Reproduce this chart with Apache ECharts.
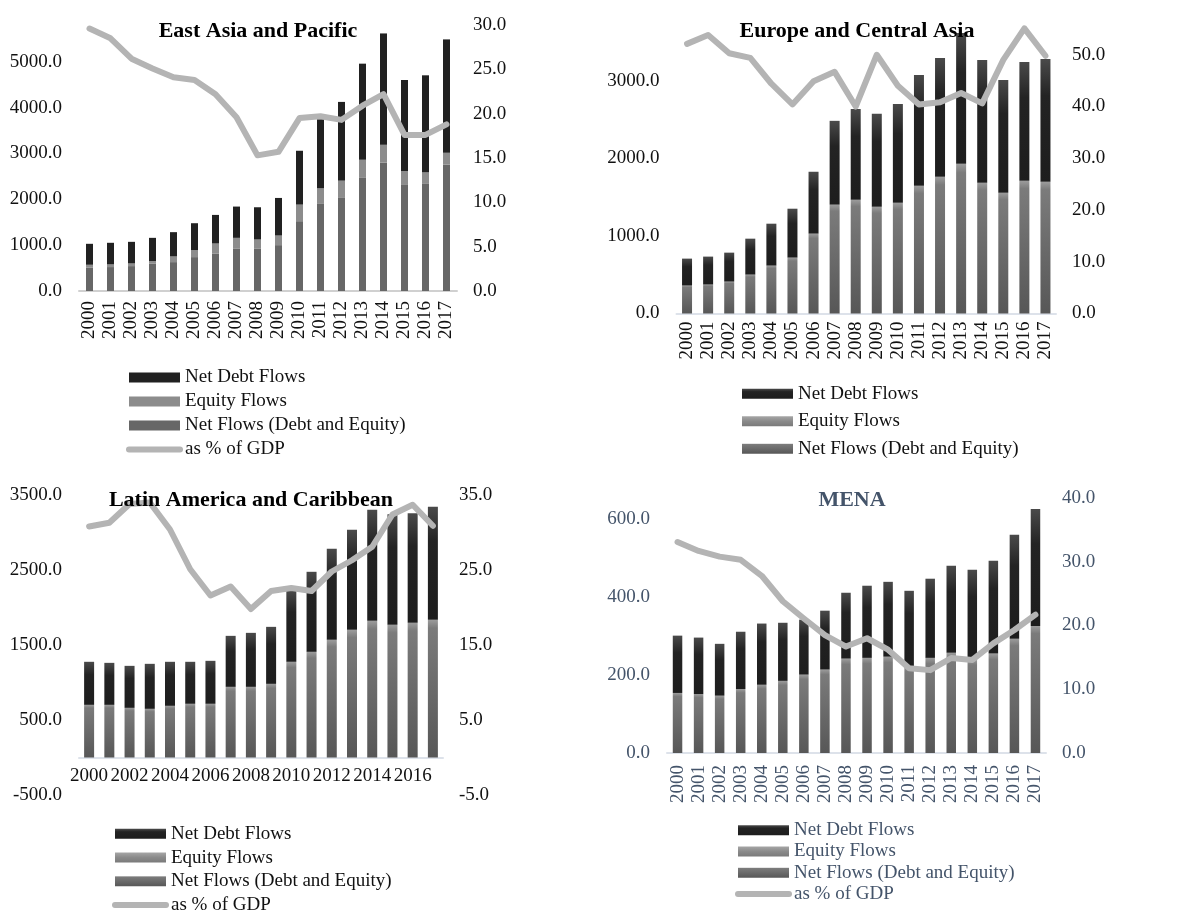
<!DOCTYPE html>
<html>
<head>
<meta charset="utf-8">
<script src="https://cdn.jsdelivr.net/npm/echarts@6/dist/echarts.min.js"></script>
<style>
  html, body { margin: 0; padding: 0; background: #ffffff; overflow: hidden; }
  .panel { position: absolute; left: 0; top: 0; width: 1182px; height: 1000px; }
</style>
</head>
<body>
<div id="eap" class="panel"></div>
<div id="eca" class="panel"></div>
<div id="lac" class="panel"></div>
<div id="mena" class="panel"></div>
<script>
// Years on the category axis
const years = ['2000','2001','2002','2003','2004','2005','2006','2007','2008',
               '2009','2010','2011','2012','2013','2014','2015','2016','2017'];

// East Asia and Pacific
const eapNetFlows = [507,522,543,594,630,739,812,920,920,1000,1522,1899,2043,2478,2804,2312,2348,2754];
const eapEquity   = [65,58,58,58,124,152,224,239,203,210,362,340,363,384,384,304,239,260];
const eapNetDebt  = [457,471,471,507,529,587,623,682,703,819,1174,1507,1717,2095,2428,1985,2116,2472];
const eapGdpPct   = [29.6,28.5,26.2,25.1,24.1,23.8,22.2,19.6,15.3,15.7,19.5,19.7,19.3,20.9,22.2,17.6,17.6,18.8];

// Europe and Central Asia
const ecaNetFlows = [360,373,411,501,617,720,1029,1402,1466,1376,1427,1646,1762,1929,1685,1556,1710,1697];
const ecaEquity   = [];
const ecaNetDebt  = [347,360,373,463,540,630,797,1080,1170,1196,1273,1427,1530,1684,1581,1453,1530,1582];
const ecaGdpPct   = [52.1,53.8,50.3,49.4,44.4,40.4,44.9,46.7,40.0,50.0,44.0,40.4,40.8,42.6,40.6,49.0,55.1,49.8];

// Latin America and Caribbean
const lacNetFlows = [702,702,662,649,689,716,716,942,942,982,1276,1409,1569,1702,1822,1769,1796,1836];
const lacEquity   = [];
const lacNetDebt  = [574,560,560,600,587,560,573,680,720,760,946,1067,1213,1334,1480,1475,1462,1506];
const lacGdpPct   = [30.8,31.3,33.8,34.0,30.4,25.1,21.6,22.8,19.8,22.2,22.6,22.2,24.8,26.3,28.1,32.4,33.7,30.9];

// Middle East and North Africa
const menaNetFlows = [154,151,147,164,175,185,201,214,242,244,247,222,244,257,240,255,293,326];
const menaEquity   = [];
const menaNetDebt  = [147,145,133,147,157,149,141,151,169,185,192,194,203,223,230,238,267,300];
const menaGdpPct   = [33.1,31.7,30.8,30.3,27.8,23.8,21.1,18.5,16.7,18.0,16.2,13.3,13.0,14.9,14.6,17.2,19.3,21.7];

const SERIES_DEBT = 'Net Debt Flows';
const SERIES_EQUITY = 'Equity Flows';
const SERIES_NET = 'Net Flows (Debt and Equity)';
const SERIES_GDP = 'as % of GDP';

const FONT = "'Liberation Serif', 'Times New Roman', serif";
const LINE_GREY = '#b4b4b4';

const grad = (stops) => new echarts.graphic.LinearGradient(0, 0, 0, 1,
  stops.map(([offset, color]) => ({ offset, color })));

const flatColours = { debt: '#212121', equity: '#8c8c8c', net: '#676767' };
const gradColours = {
  debt: grad([[0, '#4a4a4a'], [0.3, '#232323'], [1, '#1d1d1d']]),
  equity: grad([[0, '#a6a6a6'], [0.5, '#8a8a8a'], [1, '#7a7a7a']]),
  net: grad([[0, '#9c9c9c'], [0.06, '#7b7b7b'], [1, '#575757']])
};

const fmt1 = v => v.toFixed(1);

function buildPanel(el, cfg) {
  const chart = echarts.init(document.getElementById(el));
  const col = cfg.colours;
  const txt = cfg.textColour;
  // the GDP share keeps a plain rounded line as its key, without the marker dot
  const legendItems = cfg.legendNames.map(n => n === SERIES_GDP
    ? { name: n, itemStyle: { opacity: 0 },
        lineStyle: { width: 6, cap: 'round', color: LINE_GREY } }
    : { name: n, icon: 'rect' });
  const option = {
    animation: false,
    textStyle: { fontFamily: FONT },
    graphic: [{
      type: 'text', z: 100,
      x: cfg.title.x, y: cfg.title.y,
      style: {
        text: cfg.title.text, x: 0, y: 0,
        font: 'bold 22px ' + FONT, fill: cfg.titleColour,
        textAlign: 'center', textVerticalAlign: 'middle'
      }
    }],
    legend: {
      orient: 'vertical', left: cfg.legend.left, top: cfg.legend.top,
      padding: 0, itemWidth: 51, itemHeight: 10, itemGap: 0,
      textStyle: { fontFamily: FONT, fontSize: 19, color: txt, lineHeight: cfg.legend.pitch },
      data: legendItems
    },
    grid: Object.assign({ containLabel: false }, cfg.grid),
    xAxis: {
      type: 'category', data: years,
      offset: cfg.xOffset || 0,
      axisLine: { onZero: false, lineStyle: { color: cfg.axisColour, width: 2 } },
      axisTick: { show: false },
      axisLabel: Object.assign({
        fontFamily: FONT, fontSize: 19, color: txt, margin: cfg.xMargin
      }, cfg.xLabel)
    },
    yAxis: [
      Object.assign({
        type: 'value', position: 'left',
        splitLine: { show: false }, axisLine: { show: false }, axisTick: { show: false },
        axisLabel: { fontFamily: FONT, fontSize: 19, color: txt, margin: 17,
                     formatter: cfg.leftFormatter || fmt1,
                     showMaxLabel: cfg.leftShowMax }
      }, cfg.leftAxis),
      Object.assign({
        type: 'value', position: 'right',
        splitLine: { show: false }, axisLine: { show: false }, axisTick: { show: false },
        axisLabel: { fontFamily: FONT, fontSize: 19, color: txt, margin: 16,
                     formatter: cfg.rightFormatter || fmt1,
                     showMaxLabel: cfg.rightShowMax }
      }, cfg.rightAxis)
    ],
    series: [
      { name: SERIES_NET, type: 'bar', stack: 'flows', barWidth: cfg.barWidth,
        itemStyle: { color: col.net }, data: cfg.net },
      { name: SERIES_EQUITY, type: 'bar', stack: 'flows', barWidth: cfg.barWidth,
        itemStyle: { color: col.equity }, data: cfg.equity },
      { name: SERIES_DEBT, type: 'bar', stack: 'flows', barWidth: cfg.barWidth,
        itemStyle: { color: col.debt }, data: cfg.debt },
      { name: SERIES_GDP, type: 'line', yAxisIndex: 1, symbol: 'none', z: 5,
        lineStyle: { color: LINE_GREY, width: 6, cap: 'round', join: 'round' },
        itemStyle: { color: LINE_GREY },
        data: cfg.gdp }
    ]
  };
  chart.setOption(option);
}

const allNames = [SERIES_DEBT, SERIES_EQUITY, SERIES_NET, SERIES_GDP];

buildPanel('eap', {
  title: { text: 'East Asia and Pacific', x: 258, y: 31 },
  titleColour: '#000000', textColour: '#111111', axisColour: '#d0d0d0',
  colours: flatColours,
  grid: { left: 79, top: 25, width: 378, height: 266 },
  leftAxis: { min: 0, max: 5800, interval: 1000 }, leftShowMax: false,
  rightAxis: { min: 0, max: 30, interval: 5 }, rightShowMax: true,
  xLabel: { rotate: 90, interval: 0 }, xMargin: 10,
  barWidth: 7,
  legend: { left: 126, top: 365.5, pitch: 24 }, legendNames: allNames,
  net: eapNetFlows, equity: eapEquity, debt: eapNetDebt, gdp: eapGdpPct
});

buildPanel('eca', {
  title: { text: 'Europe and Central Asia', x: 857, y: 31 },
  titleColour: '#000000', textColour: '#111111', axisColour: '#dde2ea',
  colours: gradColours,
  grid: { left: 676.5, top: 3, width: 379.5, height: 310.5 },
  leftAxis: { min: 0, max: 4000, interval: 1000 }, leftShowMax: false,
  rightAxis: { min: 0, max: 60, interval: 10 }, rightShowMax: false,
  xLabel: { rotate: 90, interval: 0 }, xMargin: 8,
  barWidth: 10,
  legend: { left: 742, top: 380, pitch: 27.5 },
  legendNames: [SERIES_DEBT, SERIES_EQUITY, SERIES_NET],
  net: ecaNetFlows, equity: ecaEquity, debt: ecaNetDebt, gdp: ecaGdpPct
});

buildPanel('lac', {
  title: { text: 'Latin America and Caribbean', x: 251, y: 500 },
  titleColour: '#000000', textColour: '#111111', axisColour: '#dde2ea',
  colours: gradColours,
  grid: { left: 79, top: 495, width: 364, height: 300 },
  // labels every 1000 starting from -500
  leftAxis: { min: -500, max: 3500, interval: 500 }, leftShowMax: true,
  leftFormatter: v => ((Math.round(v) + 500) % 1000 === 0 ? v.toFixed(1) : ''),
  rightAxis: { min: -5, max: 35, interval: 5 }, rightShowMax: true,
  rightFormatter: v => ((Math.round(v) + 5) % 10 === 0 ? v.toFixed(1) : ''),
  // category axis sits on the zero line, 500 units above the grid bottom
  xOffset: -37.5,
  xLabel: { rotate: 0, interval: 1 }, xMargin: 9,
  barWidth: 10,
  legend: { left: 112, top: 822, pitch: 23.7 }, legendNames: allNames,
  net: lacNetFlows, equity: lacEquity, debt: lacNetDebt, gdp: lacGdpPct
});

buildPanel('mena', {
  title: { text: 'MENA', x: 852, y: 500 },
  titleColour: '#44546a', textColour: '#44546a', axisColour: '#dde2ea',
  colours: gradColours,
  grid: { left: 667, top: 498, width: 379, height: 255 },
  leftAxis: { min: 0, max: 654, interval: 200 }, leftShowMax: false,
  rightAxis: { min: 0, max: 40, interval: 10 }, rightShowMax: true,
  xLabel: { rotate: 90, interval: 0 }, xMargin: 12,
  barWidth: 9.5,
  legend: { left: 735, top: 819.5, pitch: 21.3 }, legendNames: allNames,
  net: menaNetFlows, equity: menaEquity, debt: menaNetDebt, gdp: menaGdpPct
});
</script>
</body>
</html>
